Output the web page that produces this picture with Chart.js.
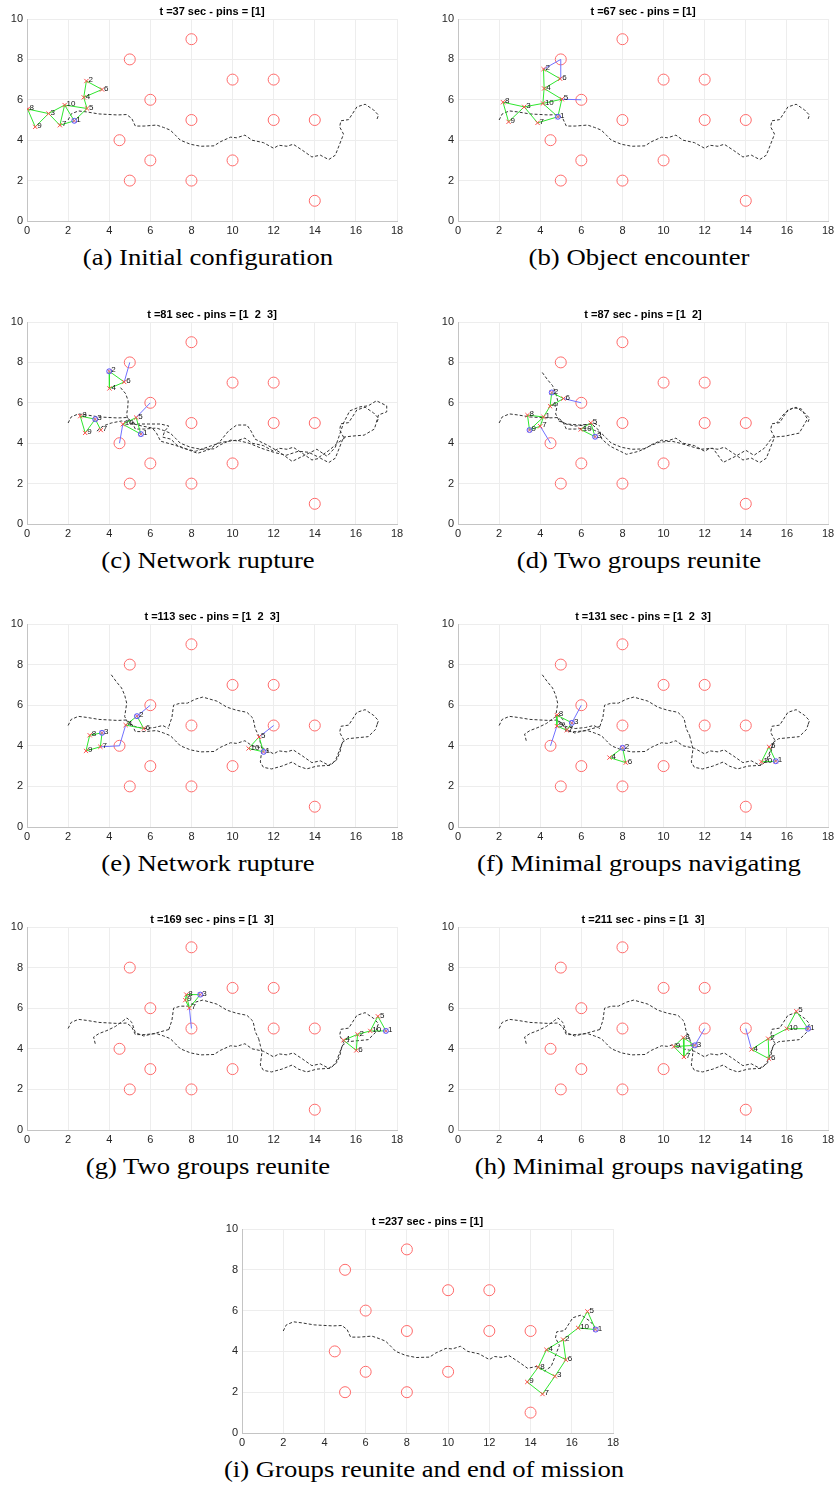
<!DOCTYPE html>
<html>
<head>
<meta charset="utf-8">
<script src="https://cdn.jsdelivr.net/npm/chart.js@4.4.1/dist/chart.umd.min.js"></script>
<style>
  body { margin: 0; background: #fff; }
  #fig { position: relative; width: 837px; height: 1485px; overflow: hidden; }
  #fig canvas { position: absolute; }
  .ttl { position: absolute; font: bold 11px "Liberation Sans", Arial, sans-serif; color: #000;
         transform: translate(-50%, -50%); white-space: pre; }
  .cap { position: absolute; font: 23px "Liberation Serif", "DejaVu Serif", serif; color: #000;
         transform: translate(-50%, -50%) scaleX(1.16); white-space: nowrap; }
</style>
</head>
<body>
<div id="fig"></div>
<script>
// axes
const xTicks = [0, 2, 4, 6, 8, 10, 12, 14, 16, 18];
const yTicks = [0, 2, 4, 6, 8, 10];

// obstacles (same in every snapshot)
const obstX = [5, 8, 10, 12, 6, 8, 12, 14, 4.5, 6, 10, 5, 8, 14];
const obstY = [8, 9, 7, 7, 6, 5, 5, 5, 4, 3, 3, 2, 2, 1];

// dashed trajectories
const pathMain = [[2,5],[2.15,5.3],[2.5,5.45],[2.9,5.4],[3.5,5.3],[4.4,5.25],[4.85,5.27],[5.1,5.07],[5.27,4.7],
  [5.7,4.7],[6.3,4.75],[6.65,4.63],[6.97,4.5],[7.22,4.25],[7.46,4.0],[7.95,3.8],[8.45,3.7],[9.1,3.72],[9.4,3.92],
  [9.9,4.15],[10.2,4.12],[10.6,4.25],[10.95,4.0],[11.5,3.88],[12.0,3.6],[12.25,3.75],[12.65,3.7],[12.95,3.8],
  [13.4,3.5],[13.86,3.17],[14.27,3.26],[14.68,3.04],[15.0,3.26],[15.4,4.3],[15.21,4.66],[15.27,4.96],[15.65,5.02],
  [16.05,5.65],[16.45,5.78],[16.86,5.5],[17.1,5.24],[17.03,5.05]];
const pathNorth = [[4.1,7.5],[4.35,7.15],[4.6,6.85],[4.75,6.5],[4.85,6.1],[4.8,5.75],[4.75,5.45],[4.9,5.15],
  [5.25,4.95],[5.7,4.85],[6.2,4.9],[6.6,5.0],[6.9,4.85]];
const pathWest = [[3.32,4.25],[3.24,4.58],[3.5,4.75],[3.89,4.9],[4.3,5.1],[4.7,5.4],[4.86,5.52],[5.1,5.3],
  [5.27,4.8],[5.68,4.63],[6.32,4.79],[6.9,4.95]];
const pathLoopTop = [[6.9,4.95],[7.05,5.4],[7.13,6.0],[7.46,6.1],[7.8,6.1],[8.2,6.3],[8.55,6.4],[9.24,6.2],
  [9.73,5.9],[10.2,5.75],[10.7,5.65],[11.0,5.35],[11.1,4.85],[11.27,4.5]];
const pathLoopLow = [[11.27,4.5],[11.43,3.84],[11.35,3.2],[11.5,2.94],[11.9,2.86],[12.4,3.0],[12.9,3.2],
  [13.2,3.0],[13.6,2.86],[14.1,3.0],[14.76,3.04],[15.08,3.33],[15.24,3.74],[15.32,4.15],[15.6,4.35],[16.1,4.4],
  [16.6,4.45],[16.95,4.8],[17.05,5.1]];
const pathC1 = [[4.55,6.75],[4.8,6.45],[4.92,6.1],[4.9,5.75],[4.85,5.45],[4.9,5.15],[5.3,4.95],[5.9,4.95],
  [6.5,4.95],[6.9,4.85],[6.7,4.6],[6.6,4.3],[7.0,4.2],[7.3,3.9],[7.9,3.65],[8.3,3.5],[8.9,3.7],[9.4,4.1],
  [9.8,4.6],[10.2,4.9],[10.7,4.9],[10.9,4.6],[11.1,4.2],[11.7,3.9],[12.3,3.55],[12.9,3.1],[13.5,3.4],[14.1,3.7],
  [14.6,3.35],[15.0,3.8],[15.2,4.4],[15.4,5.0],[15.7,5.6],[16.2,5.8],[16.6,5.85],[17.0,6.1],[17.5,5.85],
  [17.5,5.55],[17.1,5.4],[16.9,4.7],[16.4,4.4],[15.8,4.35],[15.4,4.3]];
const pathC2 = [[3.4,4.6],[3.7,4.85],[4.1,5.0],[4.6,5.1],[5.0,5.0],[5.6,4.85],[6.1,4.75],[6.3,4.5],[6.5,4.1],
  [7.2,3.9],[7.6,3.75],[8.2,3.6],[8.9,3.85],[9.5,4.05],[10.2,4.15],[10.8,4.0],[11.4,3.75],[12.0,3.55],
  [12.6,3.4],[13.2,3.6],[13.7,3.55],[14.2,3.3],[14.7,3.65],[15.1,4.0],[15.5,4.3]];
const pathD2 = [[4.9,5.1],[5.3,4.95],[5.9,4.9],[6.5,4.95],[6.9,4.6],[7.0,4.2],[7.4,3.85],[7.9,3.6],[8.2,3.45],
  [8.8,3.6],[9.3,3.85],[9.8,4.05],[10.4,4.1],[10.8,4.0],[11.3,3.85],[11.8,3.7],[12.4,3.75],[12.9,3.05],
  [13.5,3.35],[14.0,3.65],[14.4,3.4],[14.9,3.75],[15.3,4.3],[15.9,4.35],[16.6,4.5],[17.0,5.2],[16.7,5.7],
  [16.3,5.75],[15.9,5.5],[15.5,5.0]];

// robots per snapshot: [id, x, y]
const nodesA = [[1,2.3,4.96],[2,2.89,6.93],[3,1.05,5.32],[4,2.76,6.12],[5,2.92,5.57],[6,3.65,6.51],[7,1.6,4.74],[8,0.03,5.54],[9,0.4,4.66],[10,1.83,5.74]];
const nodesB = [[1,4.86,5.16],[2,4.16,7.52],[3,3.22,5.65],[4,4.19,6.56],[5,5.05,6.03],[6,4.97,7.04],[7,3.87,4.86],[8,2.19,5.88],[9,2.46,4.91],[10,4.13,5.82]];
const nodesC = [[1,5.54,4.45],[2,4.0,7.56],[3,3.32,5.19],[4,4.01,6.71],[5,5.31,5.27],[6,4.73,7.03],[7,3.59,4.65],[8,2.59,5.34],[9,2.83,4.51],[10,4.66,4.94]];
const nodesD = [[1,4.16,5.3],[2,4.56,6.51],[3,6.67,4.32],[4,4.48,5.83],[5,6.46,5.01],[6,5.13,6.21],[7,4.0,4.84],[8,3.38,5.39],[9,3.48,4.65],[10,5.97,4.68]];
const nodesE = [[1,11.51,3.7],[2,5.35,5.46],[3,3.65,4.64],[4,4.8,5.02],[5,11.29,4.44],[6,5.68,4.85],[7,3.57,3.95],[8,3.05,4.52],[9,2.87,3.75],[10,10.78,3.87]];
const nodesF = [[1,15.46,3.24],[2,8.01,3.9],[3,5.54,5.13],[4,7.37,3.42],[5,15.13,3.95],[6,8.16,3.17],[7,5.29,4.77],[8,4.81,5.51],[9,4.81,4.97],[10,14.76,3.21]];
const nodesG = [[1,17.46,4.88],[2,16.08,4.71],[3,8.43,6.67],[4,15.4,4.42],[5,17.07,5.6],[6,16.02,3.92],[7,7.9,6.01],[8,7.75,6.67],[9,7.7,6.4],[10,16.7,4.88]];
const nodesH = [[1,17.03,4.99],[2,15.09,4.5],[3,11.52,4.17],[4,14.28,3.97],[5,16.46,5.85],[6,15.13,3.51],[7,10.99,3.6],[8,10.96,4.55],[9,10.5,4.11],[10,16.0,4.99]];
const nodesI = [[1,17.16,5.07],[2,15.58,4.58],[3,15.18,2.78],[4,14.77,4.08],[5,16.76,5.96],[6,15.71,3.59],[7,14.58,1.91],[8,14.37,3.22],[9,13.84,2.5],[10,16.31,5.15]];

// pinned robots
const pinsA = [1], pinsB = [1], pinsC = [2, 3, 1], pinsD = [2, 9, 3], pinsE = [3, 2, 1];
const pinsF = [3, 2, 1], pinsG = [3, 1], pinsH = [3, 1], pinsI = [1];

// communication links (green): [id, id]
const edgesA = [[8,9],[8,3],[9,3],[3,10],[3,7],[7,10],[10,1],[7,1],[1,5],[10,5],[5,4],[4,2],[2,6],[4,6]];
const edgesB = [[8,9],[8,3],[9,3],[3,7],[3,10],[7,1],[10,1],[10,5],[10,4],[4,5],[4,6],[4,2],[2,6],[5,1]];
const edgesC = [[2,6],[2,4],[4,6],[8,3],[8,9],[9,3],[3,7],[10,5],[10,1],[5,1]];
const edgesD = [[2,6],[2,4],[4,1],[6,4],[8,1],[8,9],[9,1],[9,7],[7,1],[10,5],[10,3],[5,3]];
const edgesE = [[8,3],[8,9],[9,7],[7,3],[4,2],[4,6],[2,6],[5,10],[5,1],[10,1]];
const edgesF = [[8,9],[8,3],[9,7],[3,7],[2,4],[2,6],[4,6],[5,10],[5,1],[10,1]];
const edgesG = [[8,3],[8,9],[9,7],[8,7],[7,3],[4,2],[4,6],[2,6],[2,10],[10,5],[5,1],[10,1]];
const edgesH = [[8,9],[8,3],[9,3],[9,7],[7,3],[8,7],[4,2],[4,6],[2,6],[2,10],[10,5],[5,1],[10,1]];
const edgesI = [[5,10],[5,1],[10,1],[10,2],[2,4],[2,6],[4,6],[4,8],[6,3],[8,3],[8,9],[9,7],[7,3]];

// anchor links (blue): [robot id, obstacle index]
const blueA = [], blueB = [[2,0],[6,0],[5,4]], blueC = [[6,0],[5,4],[10,8]], blueD = [[6,4],[7,8]];
const blueE = [[7,8],[4,8],[2,4],[5,6]], blueF = [[9,8],[3,4]], blueG = [[7,5]], blueH = [[3,6],[4,7]], blueI = [];

const titles = ['t =37 sec - pins = [1]', 't =67 sec - pins = [1]', 't =81 sec - pins = [1  2  3]',
  't =87 sec - pins = [1  2]', 't =113 sec - pins = [1  2  3]', 't =131 sec - pins = [1  2  3]',
  't =169 sec - pins = [1  3]', 't =211 sec - pins = [1  3]', 't =237 sec - pins = [1]'];
const captions = ['(a) Initial configuration', '(b) Object encounter', '(c) Network rupture',
  '(d) Two groups reunite', '(e) Network rupture', '(f) Minimal groups navigating',
  '(g) Two groups reunite', '(h) Minimal groups navigating', '(i) Groups reunite and end of mission'];

const panels = [
  { nodes: nodesA, pins: pinsA, edges: edgesA, blue: blueA, paths: [pathMain] },
  { nodes: nodesB, pins: pinsB, edges: edgesB, blue: blueB, paths: [pathMain] },
  { nodes: nodesC, pins: pinsC, edges: edgesC, blue: blueC, paths: [pathMain, pathC1, pathC2] },
  { nodes: nodesD, pins: pinsD, edges: edgesD, blue: blueD, paths: [pathMain, pathNorth, pathD2] },
  { nodes: nodesE, pins: pinsE, edges: edgesE, blue: blueE, paths: [pathMain, pathNorth, pathLoopTop, pathLoopLow] },
  { nodes: nodesF, pins: pinsF, edges: edgesF, blue: blueF, paths: [pathMain, pathNorth, pathWest, pathLoopTop, pathLoopLow] },
  { nodes: nodesG, pins: pinsG, edges: edgesG, blue: blueG, paths: [pathMain, pathWest, pathLoopTop, pathLoopLow] },
  { nodes: nodesH, pins: pinsH, edges: edgesH, blue: blueH, paths: [pathMain, pathWest, pathLoopTop, pathLoopLow] },
  { nodes: nodesI, pins: pinsI, edges: edgesI, blue: blueI, paths: [pathMain] }
];

// plot-area boxes in page pixels [left, top, right, bottom]
const boxes = [
  [27, 19, 397, 221], [458, 19, 828, 221],
  [27, 322, 397, 524], [458, 322, 828, 524],
  [27, 624, 397, 827], [458, 624, 828, 827],
  [27, 927, 397, 1130], [458, 927, 828, 1130],
  [242, 1229, 613, 1433]
];

const fig = document.getElementById('fig');
const tickFont = { family: '"Liberation Sans", Arial, sans-serif', size: 11 };

function pt(p) { return { x: p[0], y: p[1] }; }

function makeText(cls, txt, x, y) {
  const d = document.createElement('div');
  d.className = cls;
  d.textContent = txt;
  d.style.left = x + 'px';
  d.style.top = y + 'px';
  fig.appendChild(d);
}

panels.forEach(function (p, k) {
  const b = boxes[k];
  const padL = 30, padT = 12, padR = 14, padB = 22;
  const cv = document.createElement('canvas');
  const w = b[2] - b[0] + padL + padR, h = b[3] - b[1] + padT + padB;
  cv.width = w; cv.height = h;
  cv.style.left = (b[0] - padL) + 'px';
  cv.style.top = (b[1] - padT) + 'px';
  fig.appendChild(cv);

  const byId = {};
  p.nodes.forEach(n => { byId[n[0]] = { x: n[1], y: n[2] }; });

  const ds = [];
  ds.push({ data: p.pins.map(id => byId[id]), pointStyle: 'circle', pointRadius: 2.5,
    borderColor: '#5a5aff', backgroundColor: 'rgba(170,170,255,0.3)', borderWidth: 1 });
  ds.push({ data: p.nodes.map(n => byId[n[0]]), pointStyle: 'crossRot', pointRadius: 3,
    borderColor: '#ff4a4a', borderWidth: 1 });
  p.edges.forEach(e => ds.push({ data: [byId[e[0]], byId[e[1]]], showLine: true,
    borderColor: '#2ee62e', borderWidth: 1, pointRadius: 0 }));
  p.blue.forEach(e => ds.push({ data: [byId[e[0]], { x: obstX[e[1]], y: obstY[e[1]] }], showLine: true,
    borderColor: '#7070ff', borderWidth: 1, pointRadius: 0 }));
  ds.push({ data: obstX.map((x, i) => ({ x: x, y: obstY[i] })), pointStyle: 'circle', pointRadius: 5.5,
    borderColor: '#ff6a6a', backgroundColor: 'rgba(0,0,0,0)', borderWidth: 1 });
  p.paths.forEach(path => ds.push({ data: path.map(pt), showLine: true, borderDash: [3, 2],
    borderColor: '#333', borderWidth: 1, pointRadius: 0, tension: 0 }));

  const labels = {
    id: 'nodeLabels',
    afterDatasetsDraw(chart) {
      const ctx = chart.ctx;
      const meta = chart.getDatasetMeta(1);
      ctx.save();
      ctx.font = '8px "Liberation Sans", Arial, sans-serif';
      ctx.fillStyle = '#111';
      ctx.textBaseline = 'middle';
      meta.data.forEach((el, i) => ctx.fillText(String(p.nodes[i][0]), el.x + 2, el.y - 1));
      ctx.restore();
    }
  };

  new Chart(cv, {
    type: 'scatter',
    data: { datasets: ds },
    options: {
      responsive: false,
      animation: false,
      events: [],
      layout: { padding: { left: 0, top: padT, right: padR, bottom: 0 } },
      plugins: { legend: { display: false }, tooltip: { enabled: false } },
      scales: {
        x: {
          min: xTicks[0], max: xTicks[xTicks.length - 1],
          ticks: { stepSize: xTicks[1] - xTicks[0], color: '#262626', font: tickFont, padding: 3 },
          grid: { color: '#ededed', drawTicks: false },
          border: { color: '#c4c4c4' },
          afterFit(s) { s.height = padB; }
        },
        y: {
          min: yTicks[0], max: yTicks[yTicks.length - 1],
          ticks: { stepSize: yTicks[1] - yTicks[0], color: '#262626', font: tickFont, padding: 4 },
          grid: { color: '#ededed', drawTicks: false },
          border: { color: '#c4c4c4' },
          afterFit(s) { s.width = padL; }
        }
      }
    },
    plugins: [labels]
  });

  const cx = (b[0] + b[2]) / 2;
  makeText('ttl', titles[k], cx, b[1] - 8);
  makeText('cap', captions[k], cx - 4, b[3] + 37);
});
</script>
</body>
</html>
